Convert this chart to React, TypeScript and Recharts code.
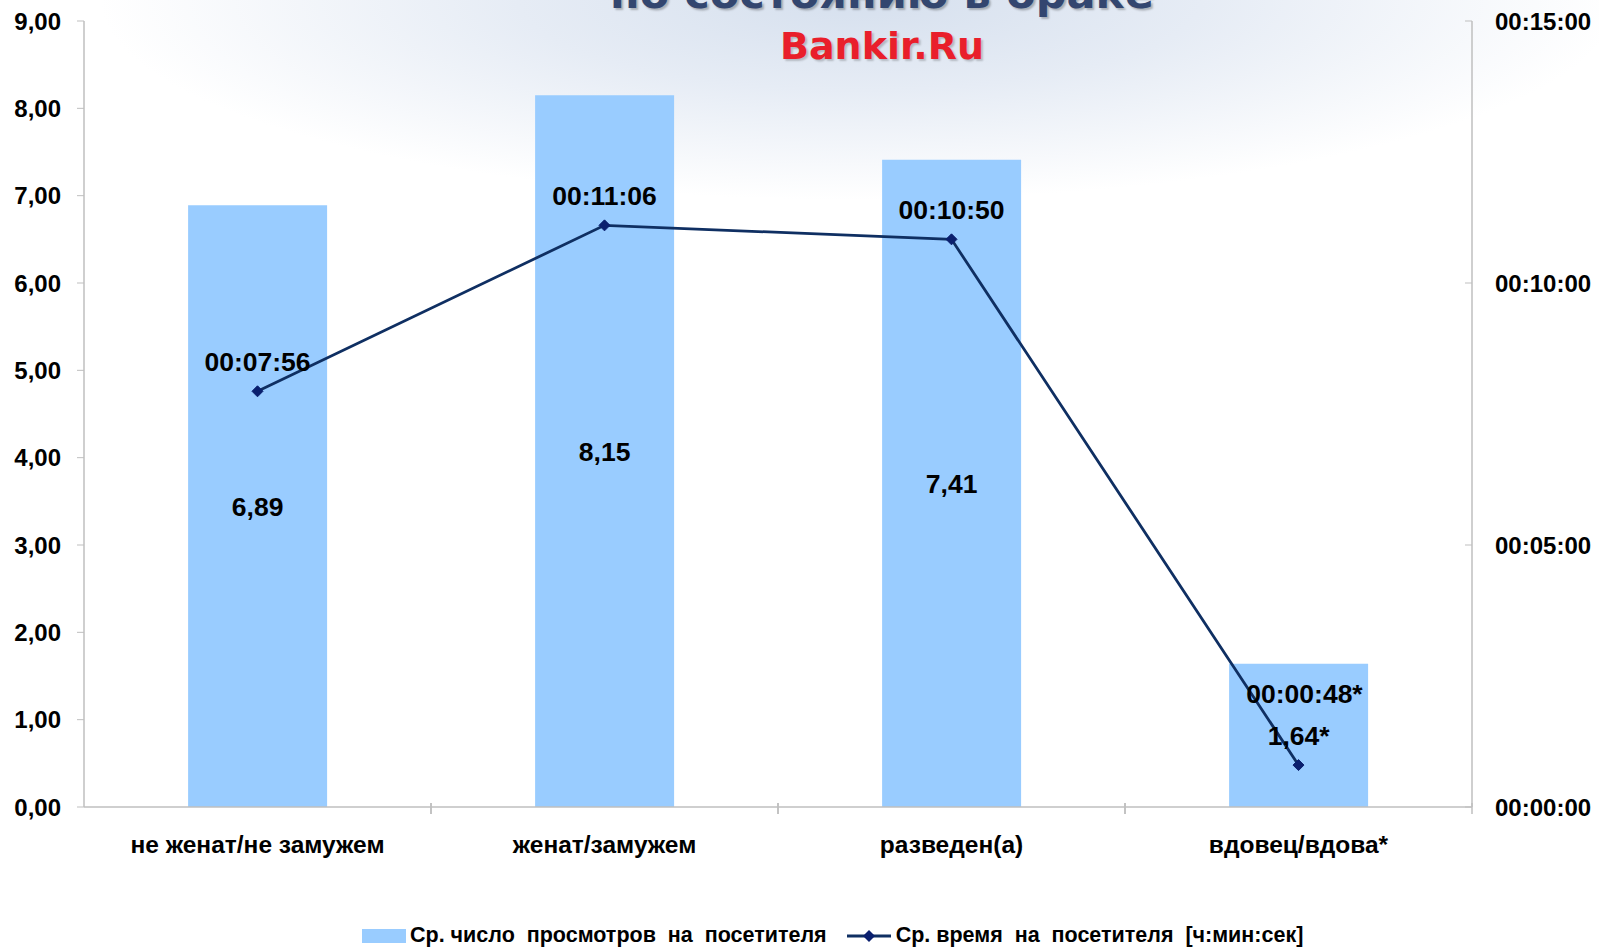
import React from 'react';
import { ComposedChart, Bar, Line, XAxis, YAxis, LabelList } from 'recharts';

const categories = ['не женат/не замужем', 'женат/замужем', 'разведен(а)', 'вдовец/вдова*'];
const pageviews = [6.89, 8.15, 7.41, 1.64];
const pageviewLabels = ['6,89', '8,15', '7,41', '1,64*'];
const timeSeconds = [476, 666, 650, 48];
const timeLabels = ['00:07:56', '00:11:06', '00:10:50', '00:00:48*'];
const leftTicks = [0, 1, 2, 3, 4, 5, 6, 7, 8, 9];
const rightTicks = [0, 300, 600, 900];

const data = categories.map((c, i) => ({
  name: c,
  pv: pageviews[i],
  pvLabel: pageviewLabels[i],
  time: timeSeconds[i],
  timeLabel: timeLabels[i],
}));

const AXIS = '#bfbfbf';
const BAR = '#99ccff';
const LINE = '#0f2f62';
const TITLE_FONT = '"DejaVu Sans", Verdana, sans-serif';
const LABEL_FONT = '"Liberation Sans", Arial, sans-serif';

const fmtLeft = (v: number) => v.toFixed(2).replace('.', ',');
const pad = (n: number) => String(n).padStart(2, '0');
const fmtTime = (s: number) => `${pad(Math.floor(s / 3600))}:${pad(Math.floor((s % 3600) / 60))}:${pad(s % 60)}`;

const LeftTick = (props: any) => {
  const { x, y, payload } = props;
  const axisX = x + 23;
  return (
    <g>
      <line x1={axisX - 7} x2={axisX} y1={y} y2={y} stroke={AXIS} strokeWidth={1} />
      <text x={x} y={y} dy="0.36em" textAnchor="end" fontFamily={LABEL_FONT} fontWeight="bold" fontSize={24} fill="#000">
        {fmtLeft(payload.value)}
      </text>
    </g>
  );
};

const RightTick = (props: any) => {
  const { x, y, payload } = props;
  const axisX = x - 23;
  return (
    <g>
      <line x1={axisX - 7} x2={axisX} y1={y} y2={y} stroke={AXIS} strokeWidth={1} />
      <text x={x} y={y} dy="0.36em" textAnchor="start" fontFamily={LABEL_FONT} fontWeight="bold" fontSize={24} fill="#000">
        {fmtTime(payload.value)}
      </text>
    </g>
  );
};

const BAND = 347;
const XTick = (props: any) => {
  const { x, y, payload, index } = props;
  const axisY = y - 8;
  return (
    <g>
      {index > 0 && (
        <line x1={x - BAND / 2} x2={x - BAND / 2} y1={axisY - 4} y2={axisY + 7} stroke={AXIS} strokeWidth={1.5} />
      )}
      <line x1={x + BAND / 2} x2={x + BAND / 2} y1={axisY - 4} y2={axisY + 7} stroke={AXIS} strokeWidth={1.5} />
      <text x={x} y={y + 29} dy="0.36em" textAnchor="middle" fontFamily={LABEL_FONT} fontWeight="bold" fontSize={24.5} fill="#000">
        {payload.value}
      </text>
    </g>
  );
};

const Diamond = (props: any) => {
  const { cx, cy } = props;
  if (cx == null || cy == null) return null;
  const r = 5.5;
  return <polygon points={`${cx},${cy - r} ${cx + r},${cy} ${cx},${cy + r} ${cx - r},${cy}`} fill="#0a1f6e" stroke="#0a1f6e" />;
};

const TimeLabel = (props: any) => {
  const { x, y, value, index } = props;
  const off = index === 3 ? 72 : 30;
  return (
    <text x={x + (index === 3 ? 6 : 0)} y={y - off} dy="0.36em" textAnchor="middle" fontFamily={LABEL_FONT} fontWeight="bold" fontSize={26.5} fill="#000">
      {value}
    </text>
  );
};

const PvLabel = (props: any) => {
  const { x, y, width, height, value } = props;
  return (
    <text x={x + width / 2} y={y + height / 2} dy="0.36em" textAnchor="middle" fontFamily={LABEL_FONT} fontWeight="bold" fontSize={26.5} fill="#000">
      {value}
    </text>
  );
};

export default function App() {
  return (
    <div
      style={{
        position: 'absolute',
        left: 0,
        top: 0,
        width: 1599,
        height: 950,
        overflow: 'hidden',
        background:
          'radial-gradient(ellipse 760px 200px at 860px 0px, #d6e0ee 0%, #e6ecf5 45%, rgba(255,255,255,0) 100%), #ffffff',
      }}
    >
      <div
        style={{
          position: 'absolute',
          left: 0,
          width: 1764,
          top: -32,
          textAlign: 'center',
          fontFamily: TITLE_FONT,
          fontWeight: 'bold',
          fontSize: 43,
          color: '#33466f',
          textShadow: '2px 2px 2px rgba(0,0,0,0.25)',
          whiteSpace: 'nowrap',
        }}
      >
        по состоянию в браке
      </div>
      <div
        style={{
          position: 'absolute',
          left: 0,
          width: 1764,
          top: 24,
          textAlign: 'center',
          fontFamily: TITLE_FONT,
          fontWeight: 'bold',
          fontSize: 38,
          lineHeight: '44px',
          color: '#e91f2b',
          textShadow: '2px 2px 2px rgba(0,0,0,0.2)',
          whiteSpace: 'nowrap',
        }}
      >
        Bankir.Ru
      </div>
      <div style={{ position: 'absolute', left: 0, top: 0 }}>
        <ComposedChart width={1599} height={950} data={data} margin={{ top: 21, right: 0, left: 0, bottom: 83 }} barCategoryGap="30%">
          <XAxis
            dataKey="name"
            height={60}
            axisLine={{ stroke: AXIS, strokeWidth: 1.5 }}
            tickLine={false}
            tick={<XTick />}
            interval={0}
          />
          <YAxis
            yAxisId="left"
            width={84}
            domain={[0, 9]}
            ticks={leftTicks}
            interval={0}
            axisLine={{ stroke: AXIS, strokeWidth: 1.5 }}
            tickLine={false}
            tickSize={7}
            tickMargin={16}
            tick={<LeftTick />}
          />
          <YAxis
            yAxisId="right"
            orientation="right"
            width={127}
            domain={[0, 900]}
            ticks={rightTicks}
            interval={0}
            axisLine={{ stroke: AXIS, strokeWidth: 1.5 }}
            tickLine={false}
            tickSize={7}
            tickMargin={16}
            tick={<RightTick />}
          />
          <Bar yAxisId="left" dataKey="pv" fill={BAR} isAnimationActive={false}>
            <LabelList dataKey="pvLabel" content={<PvLabel />} />
          </Bar>
          <Line
            yAxisId="right"
            dataKey="time"
            stroke={LINE}
            strokeWidth={2.8}
            dot={<Diamond />}
            activeDot={false}
            isAnimationActive={false}
          >
            <LabelList dataKey="timeLabel" content={<TimeLabel />} />
          </Line>
        </ComposedChart>
      </div>
      <div
        style={{
          position: 'absolute',
          left: 362,
          top: 923,
          display: 'flex',
          alignItems: 'center',
          fontFamily: LABEL_FONT,
          fontWeight: 'bold',
          fontSize: 21.5,
          color: '#000',
          whiteSpace: 'pre',
        }}
      >
        <div style={{ width: 44, height: 14, background: BAR, marginRight: 4 }} />
        <span>Ср. число  просмотров  на  посетителя</span>
        <svg width={48} height={20} style={{ marginLeft: 18, marginRight: 3 }}>
          <line x1={2} x2={46} y1={10} y2={10} stroke={LINE} strokeWidth={3} />
          <polygon points="24,4 30,10 24,16 18,10" fill="#0a1f6e" />
        </svg>
        <span>Ср. время  на  посетителя  [ч:мин:сек]</span>
      </div>
    </div>
  );
}
